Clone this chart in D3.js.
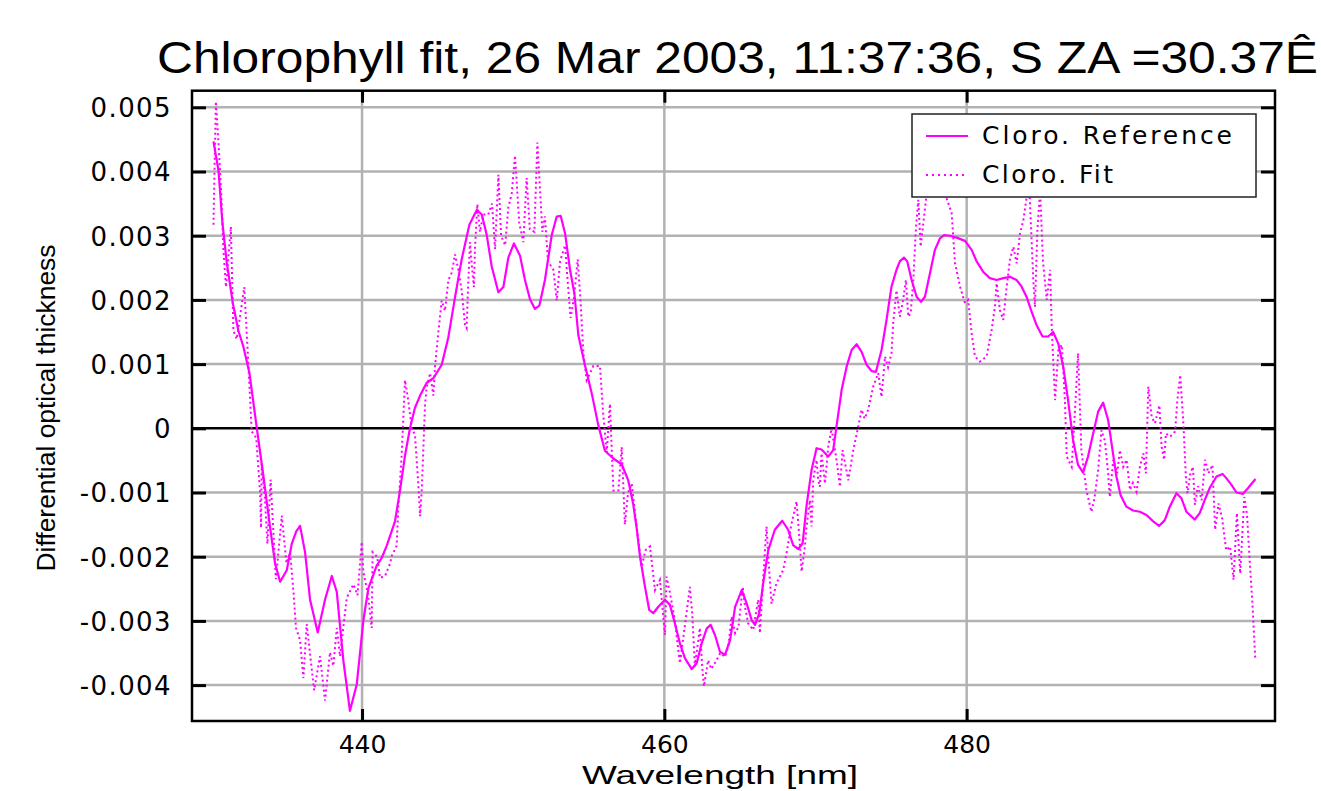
<!DOCTYPE html>
<html>
<head>
<meta charset="utf-8">
<script src="https://cdn.jsdelivr.net/npm/d3@7"></script>
<style>
  html, body { margin: 0; padding: 0; background: #ffffff; }
  svg { display: block; }
</style>
</head>
<body>
<svg id="chart" width="1321" height="791"></svg>
<script>
// ---------------- DATA ----------------
const titleText = "Chlorophyll fit, 26 Mar 2003, 11:37:36, S ZA =30.37\u00CA";
const xLabel = "Wavelength [nm]";
const yLabel = "Differential optical thickness";
const seriesNames = ["Cloro. Reference", "Cloro. Fit"];
const xTicks = [440, 460, 480];
const yTicks = [0.005, 0.004, 0.003, 0.002, 0.001, 0, -0.001, -0.002, -0.003, -0.004];
const yTickLabels = ["0.005", "0.004", "0.003", "0.002", "0.001", "0", "-0.001", "-0.002", "-0.003", "-0.004"];
const xDomain = [428.75, 500.4];
const yDomain = [-0.004559, 0.005259];

// Reference spectrum (wavelength nm, differential optical thickness)
const referencePoints = [
  [430.17,0.00447],[430.5,0.00402],[430.76,0.00321],[431.05,0.00258],[431.45,0.00195],[431.82,0.00152],
  [432.15,0.00127],[432.55,0.00086],[433.04,0],[433.47,-0.000735],[433.92,-0.00155],[434.25,-0.00211],
  [434.58,-0.00239],[435.02,-0.00221],[435.35,-0.0018],[435.64,-0.00161],[435.9,-0.00152],[436.23,-0.00193],
  [436.56,-0.00267],[437.07,-0.00318],[437.55,-0.00267],[438.0,-0.0023],[438.33,-0.00255],[438.76,-0.00361],
  [439.2,-0.0044],[439.65,-0.00399],[440.09,-0.00299],[440.42,-0.00249],[440.97,-0.00214],[441.3,-0.00202],
  [441.63,-0.00183],[442.18,-0.00145],[442.51,-0.00097],[442.84,-0.00043],[443.17,0],[443.5,0.00032],
  [443.84,0.00051],[444.28,0.00071],[444.72,0.00078],[445.27,0.00099],[445.71,0.00142],[446.15,0.00204],
  [446.59,0.00263],[447.1,0.00317],[447.59,0.0034],[447.92,0.00333],[448.25,0.00301],[448.58,0.00252],
  [449.02,0.00212],[449.35,0.0022],[449.68,0.00266],[450.05,0.00288],[450.45,0.00269],[450.78,0.00231],
  [451.11,0.00201],[451.44,0.00186],[451.73,0.00191],[452.1,0.00231],[452.55,0.00301],[452.88,0.0033],
  [453.14,0.00331],[453.43,0.00304],[453.76,0.00247],[454.05,0.0021],[454.31,0.00145],[454.76,0.00097],
  [455.2,0.00054],[455.63,0.00005],[456.07,-0.00035],[456.62,-0.00047],[457.18,-0.00056],[457.61,-0.00081],
  [457.94,-0.00118],[458.17,-0.00156],[458.39,-0.002],[458.72,-0.00247],[459.0,-0.00283],[459.27,-0.00288],
  [459.6,-0.00278],[460.04,-0.00267],[460.37,-0.00275],[460.7,-0.00304],[461.03,-0.00335],[461.36,-0.00358],
  [461.81,-0.00375],[462.14,-0.00366],[462.47,-0.00335],[462.8,-0.00312],[463.06,-0.00306],[463.35,-0.00322],
  [463.68,-0.00348],[464.01,-0.00353],[464.35,-0.0033],[464.68,-0.00278],[465.12,-0.00252],[465.45,-0.00273],
  [465.78,-0.00299],[466.0,-0.00306],[466.28,-0.00288],[466.54,-0.00241],[466.87,-0.0019],[467.31,-0.00158],
  [467.8,-0.00144],[468.19,-0.00158],[468.52,-0.00182],[468.86,-0.00188],[469.15,-0.00179],[469.41,-0.0012],
  [469.74,-0.00065],[470.07,-0.00031],[470.4,-0.00033],[470.84,-0.00044],[471.17,-0.00034],[471.39,0.00003],
  [471.73,0.0006],[472.06,0.00096],[472.39,0.00122],[472.72,0.00131],[473.05,0.00119],[473.38,0.00099],
  [473.71,0.00089],[474.0,0.00088],[474.37,0.00122],[474.7,0.00169],[475.03,0.00221],[475.36,0.00247],
  [475.58,0.0026],[475.85,0.00266],[476.07,0.0026],[476.36,0.00231],[476.69,0.00205],[476.98,0.00197],
  [477.24,0.00205],[477.57,0.00241],[477.9,0.00278],[478.24,0.00296],[478.5,0.00301],[478.9,0.003],
  [479.34,0.00297],[479.89,0.00292],[480.33,0.00278],[480.66,0.0026],[481.09,0.00244],[481.53,0.00234],
  [481.98,0.00231],[482.42,0.00234],[482.86,0.00236],[483.3,0.00231],[483.63,0.00221],[483.96,0.00205],
  [484.29,0.00182],[484.62,0.00161],[485.02,0.00143],[485.39,0.00143],[485.72,0.0015],[486.06,0.00132],
  [486.39,0.00096],[486.71,0.00044],[487.04,-0.00018],[487.37,-0.00057],[487.7,-0.00069],[488.03,-0.00044],
  [488.37,-0.00008],[488.7,0.00026],[489.03,0.0004],[489.36,0.00013],[489.65,-0.00034],[489.91,-0.00075],
  [490.18,-0.00104],[490.57,-0.00122],[491.01,-0.00128],[491.46,-0.0013],[491.9,-0.00135],[492.34,-0.00145],
  [492.73,-0.00152],[493.11,-0.00143],[493.44,-0.00122],[493.88,-0.00101],[494.21,-0.00109],[494.54,-0.0013],
  [495.09,-0.00142],[495.42,-0.00132],[495.75,-0.00112],[496.08,-0.00093],[496.53,-0.00075],[496.93,-0.00071],
  [497.19,-0.00078],[497.52,-0.00088],[497.85,-0.001],[498.29,-0.00102],[498.62,-0.00093],[499.11,-0.00079]
];

// Fitted spectrum (wavelength nm, differential optical thickness)
const fitPoints = [
  [430.17,0.00317],[430.33,0.00509],[430.5,0.00446],[430.66,0.00377],[430.83,0.00277],[431.0,0.0022],
  [431.32,0.00314],[431.49,0.00152],[431.71,0.00139],[432.21,0.0022],[432.5,0.0009],[432.7,-0.00005],
  [433.0,-0.00015],[433.25,-0.00099],[433.32,-0.00155],[433.36,-0.00055],[433.58,-0.00111],[433.74,-0.0018],
  [433.95,-0.0008],[434.3,-0.00235],[434.69,-0.00136],[435.0,-0.0021],[435.24,-0.00193],[435.46,-0.00254],
  [435.63,-0.00311],[435.9,-0.0033],[436.12,-0.00389],[436.34,-0.00305],[436.6,-0.0036],[436.83,-0.00408],
  [437.22,-0.00355],[437.55,-0.00424],[437.88,-0.00349],[438.1,-0.0037],[438.33,-0.00311],[438.54,-0.00355],
  [438.99,-0.00264],[439.43,-0.00243],[439.7,-0.0026],[439.98,-0.00177],[440.09,-0.00224],[440.4,-0.0026],
  [440.64,-0.00311],[440.7,-0.00193],[441.0,-0.002],[441.19,-0.00233],[441.52,-0.0023],[441.85,-0.00211],
  [441.96,-0.00199],[442.29,-0.00183],[442.4,-0.00123],[442.62,-0.00043],[442.84,0.00075],[443.06,0.00043],
  [443.29,0],[443.5,-0.0001],[443.72,-0.00086],[443.84,-0.00137],[443.95,-0.00096],[444.17,0.00038],
  [444.28,0.00064],[444.5,0.00086],[444.72,0.00051],[444.83,0.00097],[445.05,0.0015],[445.27,0.00199],
  [445.49,0.00183],[445.71,0.00231],[445.93,0.00242],[446.15,0.00271],[446.37,0.00247],[446.59,0.00215],
  [446.81,0.00161],[446.92,0.00156],[446.99,0.00204],[447.14,0.0029],[447.27,0.00252],[447.4,0.0022],
  [447.47,0.00279],[447.63,0.00349],[447.8,0.00306],[448.02,0.00333],[448.35,0.00333],[448.6,0.0035],
  [448.8,0.00279],[449.02,0.00395],[449.2,0.003],[449.47,0.00285],[449.68,0.00344],[449.9,0.00365],
  [450.12,0.00425],[450.4,0.0032],[450.67,0.0029],[450.89,0.0039],[451.1,0.0031],[451.4,0.00306],
  [451.6,0.00445],[451.93,0.00306],[452.1,0.0033],[452.3,0.0026],[452.66,0.00247],[452.88,0.00199],
  [453.1,0.0026],[453.43,0.00285],[453.6,0.0023],[453.8,0.00172],[454.0,0.002],[454.27,0.00263],
  [454.45,0.002],[454.64,0.00118],[454.86,0.00075],[455.3,0.00097],[455.74,0.00097],[455.96,0.00021],
  [456.19,-0.00038],[456.4,0.00038],[456.63,-0.00097],[456.96,-0.00097],[457.18,-0.00029],[457.39,-0.0015],
  [457.6,-0.001],[457.84,-0.00086],[458.1,-0.0014],[458.5,-0.00216],[458.75,-0.0019],[459.05,-0.00184],
  [459.38,-0.00252],[459.71,-0.00236],[460.04,-0.00322],[460.15,-0.00231],[460.4,-0.0026],[460.7,-0.00299],
  [460.92,-0.00345],[461.03,-0.00366],[461.4,-0.003],[461.69,-0.00247],[461.85,-0.0029],[462.02,-0.00371],
  [462.35,-0.00311],[462.5,-0.0037],[462.62,-0.00402],[462.9,-0.00361],[463.1,-0.00375],[463.46,-0.00361],
  [463.7,-0.0035],[464.01,-0.00356],[464.23,-0.0034],[464.45,-0.00293],[464.68,-0.00319],[464.9,-0.0031],
  [465.19,-0.00247],[465.35,-0.0028],[465.55,-0.00304],[465.88,-0.00314],[466.21,-0.00267],[466.32,-0.00319],
  [466.55,-0.0023],[466.76,-0.00153],[466.9,-0.0021],[467.09,-0.00273],[467.42,-0.00241],[467.86,-0.00221],
  [468.08,-0.00195],[468.4,-0.0015],[468.75,-0.00114],[468.97,-0.00182],[469.08,-0.00223],[469.3,-0.00184],
  [469.41,-0.00153],[469.63,-0.00112],[469.74,-0.00153],[469.85,-0.00081],[470.07,-0.00049],[470.18,-0.00081],
  [470.29,-0.00091],[470.4,-0.00039],[470.63,-0.00086],[470.84,-0.00029],[471.06,0],[471.39,-0.00049],
  [471.62,-0.00091],[471.79,-0.00034],[472.17,-0.00081],[472.5,-0.00034],[472.83,0.00003],[473.05,0.00029],
  [473.25,0.00015],[473.49,0.00029],[473.82,0.00065],[474.15,0.00086],[474.37,0.00049],[474.6,0.00112],
  [474.8,0.00095],[475.03,0.00117],[475.14,0.00164],[475.36,0.00215],[475.58,0.00174],[475.8,0.002],
  [475.98,0.00231],[476.14,0.00174],[476.3,0.0018],[476.47,0.00231],[476.65,0.00314],[476.8,0.00356],
  [476.96,0.00283],[477.13,0.00319],[477.31,0.00356],[477.5,0.0041],[477.9,0.0039],[478.3,0.0042],
  [478.68,0.00358],[479.01,0.00335],[479.23,0.00257],[479.56,0.00221],[479.89,0.00195],[480.1,0.002],
  [480.33,0.00148],[480.55,0.00112],[480.88,0.00104],[481.32,0.00112],[481.65,0.00153],[481.87,0.00189],
  [481.98,0.00226],[482.2,0.00184],[482.42,0.00169],[482.65,0.00221],[482.86,0.00262],[483.09,0.00283],
  [483.31,0.00257],[483.53,0.00304],[483.75,0.00324],[483.97,0.0036],[484.1,0.004],[484.41,0.00231],
  [484.52,0.00189],[484.68,0.00309],[484.86,0.0037],[485.05,0.0026],[485.3,0.002],[485.52,0.00247],
  [485.63,0.00158],[485.85,0.00044],[486.07,0.00122],[486.3,0.0013],[486.5,0.00044],[486.62,-0.00044],
  [486.95,-0.0006],[487.15,0.0002],[487.37,0.00117],[487.59,-0.00034],[487.92,-0.00096],[488.25,-0.0013],
  [488.45,-0.0011],[488.7,-0.00065],[488.92,-0.00003],[489.15,-0.0002],[489.36,-0.0007],[489.47,-0.00107],
  [489.7,-0.00049],[489.96,-0.0007],[490.14,-0.00034],[490.36,-0.0006],[490.58,-0.00049],[490.81,-0.00096],
  [491.0,-0.00085],[491.24,-0.00099],[491.46,-0.0006],[491.69,-0.00039],[491.86,-0.0007],[492.02,0.00065],
  [492.24,0.00018],[492.46,0.00008],[492.75,0.00036],[492.9,-0.00029],[493.06,-0.00049],[493.19,-0.00008],
  [493.46,-0.00013],[493.79,-0.00005],[493.94,0.00044],[494.13,0.00083],[494.35,0.00003],[494.5,-0.00075],
  [494.61,-0.00101],[494.8,-0.0007],[494.97,-0.0006],[495.1,-0.00119],[495.3,-0.0009],[495.55,-0.00112],
  [495.77,-0.00049],[496.0,-0.0007],[496.26,-0.00057],[496.44,-0.00158],[496.66,-0.00117],[496.9,-0.0014],
  [497.17,-0.0019],[497.43,-0.00184],[497.66,-0.00236],[497.88,-0.00132],[498.1,-0.00226],[498.25,-0.0016],
  [498.37,-0.00107],[498.55,-0.00135],[498.72,-0.00205],[498.9,-0.0027],[499.1,-0.00361]
];

// ---------------- LAYOUT ----------------
const plot = { left: 192, right: 1275, top: 90.7, bottom: 721 };
const lineColor = "#ff00ff";
const gridColor = "#b2b2b2";
const tickFont = "'DejaVu Sans', sans-serif";
const textFont = "'Liberation Sans', sans-serif";

const svg = d3.select("#chart");
const x = d3.scaleLinear().domain(xDomain).range([plot.left, plot.right]);
const y = d3.scaleLinear().domain(yDomain).range([plot.bottom, plot.top]);

svg.append("rect").attr("x", 0).attr("y", 0).attr("width", 1321).attr("height", 791).attr("fill", "#fff");

// gridlines
const grid = svg.append("g");
grid.selectAll("line.gy").data(yTicks.filter(v => v !== 0)).enter().append("line")
  .attr("x1", plot.left).attr("x2", plot.right)
  .attr("y1", d => y(d)).attr("y2", d => y(d))
  .attr("stroke", gridColor).attr("stroke-width", 2.5);
grid.selectAll("line.gx").data(xTicks).enter().append("line")
  .attr("y1", plot.top).attr("y2", plot.bottom)
  .attr("x1", d => x(d)).attr("x2", d => x(d))
  .attr("stroke", gridColor).attr("stroke-width", 2.5);

// zero line
svg.append("line").attr("x1", plot.left).attr("x2", plot.right)
  .attr("y1", y(0)).attr("y2", y(0)).attr("stroke", "#000").attr("stroke-width", 2.5);

// axes with inward ticks
const tickLen = 14;
const yAxisL = d3.axisLeft(y).tickValues(yTicks).tickSize(-tickLen).tickFormat((d, i) => yTickLabels[i]);
const gyl = svg.append("g").attr("transform", `translate(${plot.left},0)`).call(yAxisL);
const yAxisR = d3.axisRight(y).tickValues(yTicks).tickSize(-tickLen).tickFormat("");
const gyr = svg.append("g").attr("transform", `translate(${plot.right},0)`).call(yAxisR);
const xAxisB = d3.axisBottom(x).tickValues(xTicks).tickSize(-12).tickFormat(d3.format("d")).tickPadding(14);
const gxb = svg.append("g").attr("transform", `translate(0,${plot.bottom})`).call(xAxisB);
const xAxisT = d3.axisTop(x).tickValues(xTicks).tickSize(-12).tickFormat("");
const gxt = svg.append("g").attr("transform", `translate(0,${plot.top})`).call(xAxisT);
[gyl, gyr, gxb, gxt].forEach(g => {
  g.select(".domain").remove();
  g.selectAll(".tick line").attr("stroke", "#000").attr("stroke-width", 3);
});
gyl.selectAll(".tick text")
  .style("font-family", tickFont).style("font-size", "26px").style("letter-spacing", "1.4px")
  .attr("fill", "#000").attr("x", -20).attr("dy", "0.36em");
gxb.selectAll(".tick text")
  .style("font-family", tickFont).style("font-size", "25px").style("letter-spacing", "0px")
  .attr("fill", "#000");

// clip
svg.append("clipPath").attr("id", "clip").append("rect")
  .attr("x", plot.left).attr("y", plot.top)
  .attr("width", plot.right - plot.left).attr("height", plot.bottom - plot.top);

const line = d3.line().x(d => x(d[0])).y(d => y(d[1]));

svg.append("path").datum(fitPoints)
  .attr("clip-path", "url(#clip)")
  .attr("d", line).attr("fill", "none").attr("stroke", lineColor)
  .attr("stroke-width", 2).attr("stroke-dasharray", "2,3");

svg.append("path").datum(referencePoints)
  .attr("clip-path", "url(#clip)")
  .attr("d", line).attr("fill", "none").attr("stroke", lineColor)
  .attr("stroke-width", 2.2).attr("stroke-linejoin", "round");

// frame
svg.append("rect").attr("x", plot.left).attr("y", plot.top)
  .attr("width", plot.right - plot.left).attr("height", plot.bottom - plot.top)
  .attr("fill", "none").attr("stroke", "#000").attr("stroke-width", 2.5);

// legend
const lg = svg.append("g");
lg.append("rect").attr("x", 912).attr("y", 114).attr("width", 344).attr("height", 83)
  .attr("fill", "#fff").attr("stroke", "#222").attr("stroke-width", 1.5);
const legendRows = [
  { name: seriesNames[0], dash: null, yy: 136, len: 250 },
  { name: seriesNames[1], dash: "2,4", yy: 175, len: 131 }
];
legendRows.forEach(r => {
  lg.append("line").attr("x1", 926).attr("x2", 968).attr("y1", r.yy).attr("y2", r.yy)
    .attr("stroke", lineColor).attr("stroke-width", 2)
    .attr("stroke-dasharray", r.dash);
  lg.append("text").attr("x", 982).attr("y", r.yy + 8)
    .style("font-family", tickFont).style("font-size", "25px")
    .attr("textLength", r.len).attr("lengthAdjust", "spacing")
    .attr("fill", "#000")
    .text(r.name);
});

// title
svg.append("text").attr("x", 157).attr("y", 73)
  .style("font-family", textFont).style("font-size", "44px")
  .attr("textLength", 1161).attr("lengthAdjust", "spacingAndGlyphs")
  .attr("fill", "#000")
  .text(titleText);

// axis titles
svg.append("text").attr("x", 720).attr("y", 784).attr("text-anchor", "middle")
  .style("font-family", textFont).style("font-size", "26px")
  .attr("textLength", 276).attr("lengthAdjust", "spacingAndGlyphs")
  .attr("fill", "#000")
  .text(xLabel);
svg.append("text").attr("transform", "translate(55,408) rotate(-90)").attr("text-anchor", "middle")
  .style("font-family", textFont).style("font-size", "26px")
  .attr("textLength", 327).attr("lengthAdjust", "spacingAndGlyphs")
  .attr("fill", "#000")
  .text(yLabel);
</script>
</body>
</html>
